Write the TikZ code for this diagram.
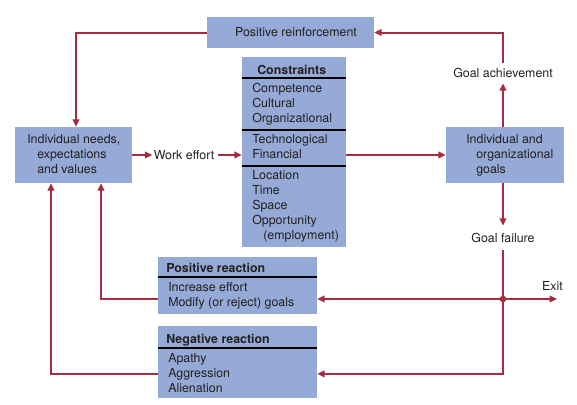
\documentclass[tikz,border=0pt]{standalone}
\usepackage{fontspec}
\setmainfont{TeX Gyre Heros}
\usetikzlibrary{arrows.meta,calc,fit}
\definecolor{boxblue}{RGB}{149,170,214}
\definecolor{linered}{RGB}{166,44,66}
\definecolor{txtgray}{RGB}{35,31,32}
\begin{document}
\begin{tikzpicture}[x=0.75pt,y=-0.75pt,
  box/.style={draw=none,fill=boxblue,inner sep=0pt},
  tx/.style={font=\fontsize{9.3}{11}\selectfont,text=txtgray,inner sep=0pt,anchor=base west},
  hd/.style={tx,font=\fontsize{9.3}{11}\selectfont\bfseries},
  lbl/.style={font=\fontsize{9.3}{11}\selectfont,text=txtgray,inner xsep=0pt,anchor=center},
  arr/.style={draw=linered,line width=1.5pt,-{Triangle[length=5.5pt,width=5pt]}},
  plain/.style={draw=linered,line width=1.5pt},
  sep/.style={draw=black,line width=1.1pt}]
\useasboundingbox (0,0) rectangle (577,404);

% Positive reinforcement
\node[box,fit={(207,17) (374,48)}] (pr) {};
\node[lbl,inner sep=0pt] (prt) at (296,32.5) {Positive reinforcement};

% Individual needs
\node[box,fit={(15,127) (132,183)}] (ind) {};
\node[tx] (ind1) at (27,143) {Individual needs,};
\node[tx] (ind2) at (37,158) {expectations};
\node[tx] (ind3) at (37,173) {and values};

% Work effort
\node[lbl,inner sep=0pt] (we) at (184,155) {Work effort};

% Constraints
\node[box,fit={(242,57) (346,247)}] (con) {};
\node[hd] (conh) at (257,74) {Constraints};
\draw[sep] (242,78) -- (346,78);
\node[tx] (c1) at (252,92) {Competence};
\node[tx] (c2) at (252,107) {Cultural};
\node[tx] (c3) at (252,122) {Organizational};
\draw[sep] (242,130) -- (346,130);
\node[tx] (c4) at (252,143) {Technological};
\node[tx] (c5) at (252,158) {Financial};
\draw[sep] (242,166) -- (346,166);
\node[tx] (c6) at (252,179) {Location};
\node[tx] (c7) at (252,194) {Time};
\node[tx] (c8) at (252,209) {Space};
\node[tx] (c9) at (252,224) {Opportunity};
\node[tx] (c10) at (263,239) {(employment)};

% Goals
\node[box,fit={(446,127) (564,183)}] (goals) {};
\node[tx] (g1) at (466,143) {Individual and};
\node[tx] (g2) at (476,158) {organizational};
\node[tx] (g3) at (476,173) {goals};

\node[lbl,inner ysep=4pt] (ga) at (503,73) {Goal achievement};
\node[lbl,inner ysep=5.5pt] (gf) at (503,238) {Goal failure};
\node[lbl,inner sep=0pt] (ex) at (552.5,286) {Exit};
\coordinate (exitend) at (557,299);
\coordinate (j) at (503,299);

% Positive reaction
\node[box,fit={(158,257) (317,314)}] (posr) {};
\node[hd] (posh) at (166,272) {Positive reaction};
\draw[sep] (158,277) -- (317,277);
\node[tx] (p1) at (168,291) {Increase effort};
\node[tx] (p2) at (168,306) {Modify (or reject) goals};

% Negative reaction
\node[box,fit={(158,326) (317,398)}] (negr) {};
\node[hd] (negh) at (166,343) {Negative reaction};
\draw[sep] (158,348) -- (317,348);
\node[tx] (n1) at (168,362) {Apathy};
\node[tx] (aggr) at (168,377) {Aggression};
\node[tx] (n3) at (168,392) {Alienation};

% connectors
\draw[arr] (ind.east) -- ([xshift=-1pt]we.west);
\draw[arr,shorten <=2.5pt] (we.east) -- (we -| con.west);
\draw[arr] (we -| con.east) -- (goals.west);
\draw[arr] (goals.north -| ga) -- (ga.south);
\draw[arr] (ga.north) |- (pr.east);
\draw[arr] (pr.west) -| ($(ind.north)+(2.5,0)$);
\draw[arr] (goals.south -| gf) -- (gf.north);
\draw[plain] (gf.south) -- (j);
\draw[arr] (j) |- (aggr -| negr.east);
\draw[arr] (j) -- (j -| posr.east);
\draw[arr] (j) -- (exitend);
\draw[arr] (j -| posr.west) -| ($(ind.south)+(27.5,0)$);
\draw[arr] (aggr -| negr.west) -| ($(ind.south)+(-22.5,0)$);
\fill[linered] (j) circle[radius=3.3];
\end{tikzpicture}
\end{document}
